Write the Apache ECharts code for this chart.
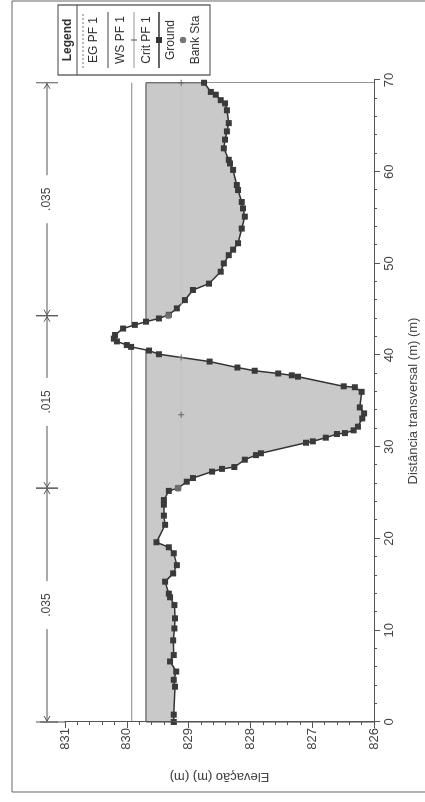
<!DOCTYPE html>
<html><head><meta charset="utf-8">
<script src="https://cdn.jsdelivr.net/npm/echarts@6/dist/echarts.min.js"></script>
<style>
html,body{margin:0;padding:0;width:425px;height:802px;overflow:hidden;background:#fff}
#chart{position:absolute;left:0;top:0;width:802px;height:425px;transform-origin:0 0;transform:translateY(802px) rotate(-90deg);}
</style></head><body><div id="chart"></div>
<script>
// ---- data ----
const elevTicks = [826, 827, 828, 829, 830, 831];
const distTicks = [0, 10, 20, 30, 40, 50, 60, 70];
const groundDist = [0.0, 0.8, 3.85, 4.6, 5.5, 6.6, 7.3, 8.9, 10.2, 11.3, 12.75, 13.6, 14.0, 15.3, 16.2, 17.1, 18.4, 19.05, 19.6,
  21.5, 22.5, 23.7, 24.2, 25.2, 25.5, 26.2, 26.6, 27.3, 27.6, 27.8, 28.6, 29.1, 29.3, 30.45, 30.6, 31.0, 31.4, 31.5, 31.8,
  32.2, 33.1, 33.65, 34.3, 36.0, 36.5, 36.6, 37.65, 37.8, 38.0, 38.3, 38.65, 39.3, 40.1, 40.5, 40.9, 41.1, 41.5, 41.8,
  42.2, 42.9, 43.3, 43.65, 44.0, 44.4, 45.1, 46.0, 47.1, 47.8, 49.1, 50.0, 50.9, 51.5, 52.2, 53.8, 55.1, 56.0, 56.7,
  58.0, 58.55, 60.2, 60.9, 61.3, 62.55, 63.5, 64.4, 65.3, 66.7, 67.45, 67.8, 68.4, 68.7, 69.7];
const groundElev = [829.24, 829.24, 829.22, 829.24, 829.20, 829.30, 829.24, 829.25, 829.23, 829.22, 829.23, 829.30, 829.32, 829.38, 829.25, 829.19, 829.24, 829.32, 829.52,
  829.38, 829.40, 829.40, 829.40, 829.32, 829.17, 829.03, 828.93, 828.62, 828.46, 828.26, 828.09, 827.91, 827.83, 827.10, 826.99, 826.78, 826.60, 826.47, 826.33,
  826.26, 826.19, 826.16, 826.23, 826.20, 826.31, 826.49, 827.23, 827.33, 827.55, 827.93, 828.21, 828.66, 829.48, 829.64, 829.93, 830.00, 830.16, 830.21,
  830.19, 830.06, 829.87, 829.69, 829.48, 829.32, 829.19, 829.06, 828.93, 828.67, 828.48, 828.43, 828.35, 828.28, 828.20, 828.14, 828.09, 828.12, 828.14,
  828.20, 828.22, 828.28, 828.33, 828.35, 828.43, 828.41, 828.38, 828.35, 828.38, 828.41, 828.48, 828.56, 828.64, 828.75];
const wsElev = 829.69;   // WS PF 1
const egElev = 829.92;   // EG PF 1
const critLeftDist = [26.6, 33.5, 39.75];
const critRightDist = [45.5, 69.7];
const critElev = 829.12; // Crit PF 1
const bankDist = [25.5, 44.3];
const bankElev = [829.17, 829.33];
const nBreaks = [0, 25.5, 44.3, 69.7];
const nValues = ['.035', '.015', '.035'];

// ---- chart ----
const FONT = '"Liberation Sans", Arial, sans-serif';
const AX = '#555', TXT = '#444';
const xMin = distTicks[0], xMax = distTicks[distTicks.length - 1];
const yMin = elevTicks[0], yMax = elevTicks[elevTicks.length - 1];
const dStart = groundDist[0], dEnd = groundDist[groundDist.length - 1];
const GL = 80, GR = 80, GT = 65, GB = 42;

const chart = echarts.init(document.getElementById('chart'), null, {renderer: 'canvas'});
const plus = 'path://M0,5 L10,5 M5,0 L5,10';

const legendGraphics = [
  {type: 'rect', shape: {x: 10, y: 12, width: 791, height: 440}, style: {fill: 'none', stroke: '#666', lineWidth: 1}, z: 0},
  {type: 'line', shape: {x1: GL, y1: 40, x2: GL, y2: GT}, style: {stroke: AX, lineWidth: 1}},
  {type: 'rect', shape: {x: 727, y: 58, width: 70, height: 152}, style: {fill: '#fff', stroke: '#444', lineWidth: 1.2}, z: 10},
  {type: 'line', shape: {x1: 727, y1: 77, x2: 797, y2: 77}, style: {stroke: '#444', lineWidth: 1.2}, z: 11},
  {type: 'text', style: {text: 'Legend', x: 762, y: 67.5, align: 'center', verticalAlign: 'middle', font: 'bold 12px ' + FONT, fill: '#333'}, z: 11},
  {type: 'line', shape: {x1: 734, y1: 83, x2: 790, y2: 83}, style: {stroke: '#777', lineWidth: 1, lineDash: [2, 2]}, z: 11},
  {type: 'text', style: {text: 'EG PF 1', x: 762, y: 94, align: 'center', verticalAlign: 'middle', font: '12px ' + FONT, fill: '#333'}, z: 11},
  {type: 'line', shape: {x1: 734, y1: 108, x2: 790, y2: 108}, style: {stroke: '#444', lineWidth: 1}, z: 11},
  {type: 'text', style: {text: 'WS PF 1', x: 762, y: 121, align: 'center', verticalAlign: 'middle', font: '12px ' + FONT, fill: '#333'}, z: 11},
  {type: 'line', shape: {x1: 734, y1: 134, x2: 790, y2: 134}, style: {stroke: '#999', lineWidth: 1}, z: 11},
  {type: 'line', shape: {x1: 762, y1: 131, x2: 762, y2: 137}, style: {stroke: '#555', lineWidth: 1}, z: 11},
  {type: 'text', style: {text: 'Crit PF 1', x: 762, y: 147, align: 'center', verticalAlign: 'middle', font: '12px ' + FONT, fill: '#333'}, z: 11},
  {type: 'line', shape: {x1: 734, y1: 159, x2: 790, y2: 159}, style: {stroke: '#333', lineWidth: 1.3}, z: 11},
  {type: 'rect', shape: {x: 759, y: 156, width: 6, height: 6}, style: {fill: '#333'}, z: 11},
  {type: 'text', style: {text: 'Ground', x: 762, y: 171, align: 'center', verticalAlign: 'middle', font: '12px ' + FONT, fill: '#333'}, z: 11},
  {type: 'circle', shape: {cx: 762, cy: 183, r: 3.2}, style: {fill: '#777'}, z: 11},
  {type: 'text', style: {text: 'Bank Sta', x: 762, y: 196, align: 'center', verticalAlign: 'middle', font: '12px ' + FONT, fill: '#333'}, z: 11}
];

const option = {
  animation: false,
  backgroundColor: '#fff',
  grid: {left: GL, right: GR, top: GT, bottom: GB, containLabel: false},
  xAxis: {
    type: 'value', min: xMin, max: xMax, interval: distTicks[1] - distTicks[0], z: 10,
    name: 'Distância transversal (m) (m)', nameLocation: 'middle', nameGap: 33,
    nameTextStyle: {fontFamily: FONT, fontSize: 13, color: TXT},
    axisLine: {show: true, lineStyle: {color: AX, width: 1}},
    axisTick: {show: true, length: 6, lineStyle: {color: AX}},
    minorTick: {show: true, splitNumber: 5, length: 3, lineStyle: {color: AX}},
    axisLabel: {margin: 9, fontFamily: FONT, fontSize: 13, color: TXT},
    splitLine: {show: false}
  },
  yAxis: {
    type: 'value', min: yMin, max: yMax, interval: elevTicks[1] - elevTicks[0], z: 10,
    name: 'Elevação (m) (m)', nameLocation: 'middle', nameGap: 48, nameRotate: 90,
    nameTextStyle: {fontFamily: FONT, fontSize: 13, color: TXT},
    axisLine: {show: true, lineStyle: {color: AX, width: 1}},
    axisTick: {show: true, length: 6, lineStyle: {color: AX}},
    minorTick: {show: true, splitNumber: 5, length: 3, lineStyle: {color: AX}},
    axisLabel: {margin: 6, fontFamily: FONT, fontSize: 13, color: TXT},
    splitLine: {show: false}
  },
  graphic: legendGraphics,
  series: [
    {
      name: 'WS PF 1', type: 'line', z: 1, symbol: 'none',
      data: [[dStart, yMin], [dStart, wsElev], [dEnd, wsElev], [dEnd, yMin]],
      lineStyle: {color: '#444', width: 1},
      areaStyle: {color: '#c9c9c9', opacity: 1, origin: 'start'}
    },
    {
      name: 'EG PF 1', type: 'line', z: 1, symbol: 'none',
      data: [[dStart, egElev], [dEnd, egElev]],
      lineStyle: {color: '#888', width: 1}
    },
    {
      name: 'Ground', type: 'line', z: 3,
      data: groundDist.map((d, i) => [d, groundElev[i]]),
      symbol: 'rect', symbolSize: 6, showAllSymbol: true,
      itemStyle: {color: '#3a3a3a'},
      lineStyle: {color: '#333', width: 1.5},
      areaStyle: {color: '#fff', opacity: 1, origin: 'start'}
    },
    {
      name: 'Crit PF 1', type: 'line', z: 4,
      data: critLeftDist.map((d, i) => ({value: [d, critElev], symbol: i === 0 ? 'none' : plus})),
      symbolSize: 6, itemStyle: {color: 'none', borderColor: '#666', borderWidth: 1},
      lineStyle: {color: '#c2c2c2', width: 1}
    },
    {
      name: 'Crit PF 1', type: 'line', z: 4,
      data: critRightDist.map((d, i) => ({value: [d, critElev], symbol: i === 0 ? 'none' : plus})),
      symbolSize: 6, itemStyle: {color: 'none', borderColor: '#666', borderWidth: 1},
      lineStyle: {color: '#c2c2c2', width: 1}
    },
    {
      name: 'Bank Sta', type: 'scatter', z: 5,
      data: bankDist.map((d, i) => [d, bankElev[i]]),
      symbol: 'circle', symbolSize: 7, itemStyle: {color: '#7a7a7a'}
    },
    {
      name: 'n', type: 'custom', z: 6, silent: true,
      data: nValues.map((v, i) => [nBreaks[i], nBreaks[i + 1]]),
      encode: {x: [0, 1]},
      renderItem: function (params, api) {
        const a = api.coord([api.value(0), yMax]);
        const b = api.coord([api.value(1), yMax]);
        const y = a[1] - 18;
        const x1 = a[0], x2 = b[0], xm = (x1 + x2) / 2;
        const st = {stroke: '#555', lineWidth: 1, fill: 'none'};
        return {
          type: 'group', children: [
            {type: 'line', shape: {x1: x1, y1: y, x2: xm - 24, y2: y}, style: st},
            {type: 'line', shape: {x1: xm + 24, y1: y, x2: x2, y2: y}, style: st},
            {type: 'line', shape: {x1: x1, y1: y - 11, x2: x1, y2: y + 11}, style: st},
            {type: 'line', shape: {x1: x2, y1: y - 11, x2: x2, y2: y + 11}, style: st},
            {type: 'polyline', shape: {points: [[x1 + 6, y - 3], [x1 + 1, y], [x1 + 6, y + 3]]}, style: st},
            {type: 'polyline', shape: {points: [[x2 - 6, y - 3], [x2 - 1, y], [x2 - 6, y + 3]]}, style: st},
            {type: 'text', style: {text: nValues[params.dataIndex], x: xm, y: y, align: 'center', verticalAlign: 'middle', font: '12px ' + FONT, fill: TXT}}
          ]
        };
      }
    }
  ]
};
chart.setOption(option);
</script></body></html>
